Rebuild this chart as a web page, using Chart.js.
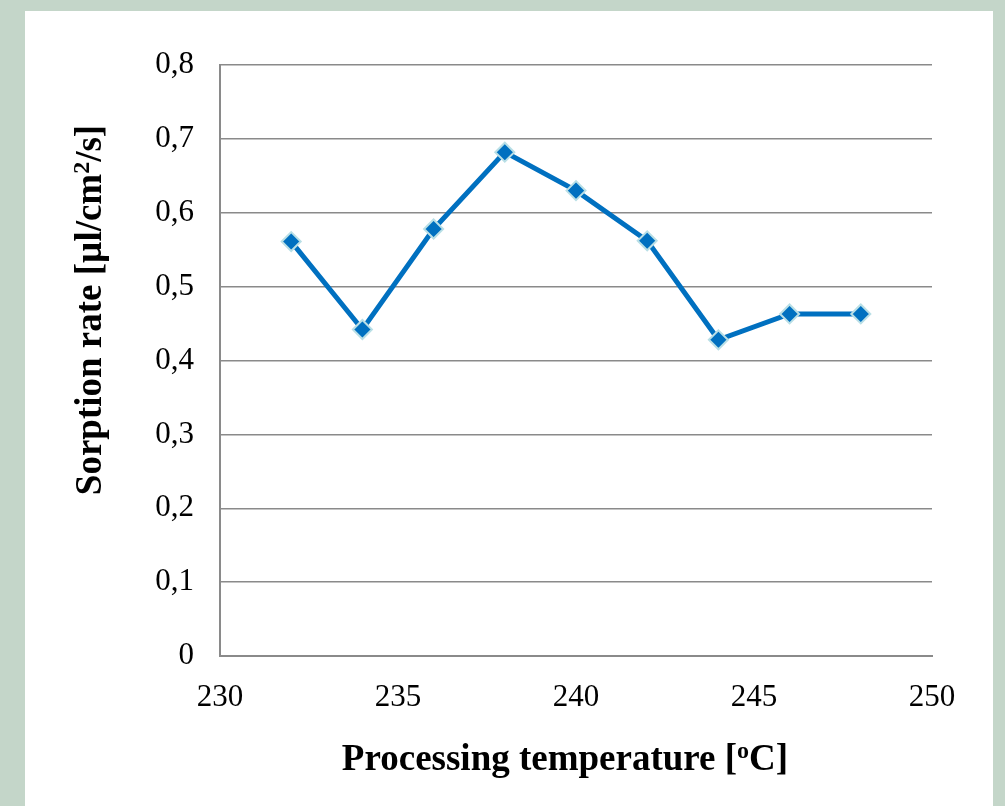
<!DOCTYPE html>
<html>
<head>
<meta charset="utf-8">
<script src="https://cdn.jsdelivr.net/npm/chart.js@4.4.1/dist/chart.umd.min.js"></script>
<style>
  html,body{margin:0;padding:0;}
  body{width:1005px;height:806px;background:#c4d6c9;position:relative;overflow:hidden;}
  #panel{position:absolute;left:25px;top:11px;width:968px;height:795px;background:#fff;}
  #c{position:absolute;left:0;top:0;}
</style>
</head>
<body>
<div id="panel"></div>
<canvas id="c" width="1005" height="806"></canvas>
<script>
(function(){
  // data
  const temps = [232, 234, 236, 238, 240, 242, 244, 246, 248];
  const rates = [0.561, 0.442, 0.578, 0.682, 0.630, 0.562, 0.428, 0.463, 0.463];
  const xTicks = [230, 235, 240, 245, 250];
  const yTicks = [0, 0.1, 0.2, 0.3, 0.4, 0.5, 0.6, 0.7, 0.8];

  const serif = '"Liberation Serif", "Times New Roman", serif';
  const gridCol = '#8a8a8a';

  // draws a line of text made of pieces, some raised as superscripts
  function richText(ctx, parts, cx, cy, size, rot){
    ctx.save();
    ctx.translate(cx, cy);
    ctx.rotate(rot);
    ctx.fillStyle = '#000';
    ctx.textBaseline = 'alphabetic';
    ctx.textAlign = 'left';
    let total = 0;
    const ws = parts.map(p=>{
      ctx.font = 'bold ' + Math.round(size*(p.sup?0.65:1)) + 'px ' + serif;
      const w = ctx.measureText(p.t).width; total += w; return w;
    });
    let x = -total/2;
    parts.forEach((p,i)=>{
      ctx.font = 'bold ' + Math.round(size*(p.sup?0.65:1)) + 'px ' + serif;
      ctx.fillText(p.t, x, p.sup ? -size*0.33 : 0);
      x += ws[i];
    });
    ctx.restore();
  }

  const titles = {
    id:'titles',
    afterDraw(chart){
      const ctx = chart.ctx;
      richText(ctx, [{t:'Sorption rate [µl/cm'},{t:'2',sup:true},{t:'/s]'}], 101, 310, 37, -Math.PI/2);
      richText(ctx, [{t:'Processing temperature ['},{t:'o',sup:true},{t:'C]'}], 565, 770, 37, 0);
    }
  };

  new Chart(document.getElementById('c'), {
    type:'scatter',
    data:{
      datasets:[{
        data: temps.map((t,i)=>({x:t, y:rates[i]})),
        showLine:true,
        borderColor:'#0070c0',
        borderWidth:5,
        pointStyle:'rectRot',
        pointRadius:9.5,
        pointBackgroundColor:'#0070c0',
        pointBorderColor:'#b9dfe6',
        pointBorderWidth:2,
        tension:0
      }]
    },
    options:{
      responsive:false,
      animation:false,
      layout:{ padding:{ left:0, top:65, right:73, bottom:0 } },
      plugins:{ legend:{display:false}, tooltip:{enabled:false} },
      scales:{
        x:{
          type:'linear', min:230, max:250,
          afterBuildTicks: s=>{ s.ticks = xTicks.map(v=>({value:v})); },
          afterFit: s=>{ s.height = 150; },
          grid:{ display:false, drawTicks:false },
          border:{ display:true, color:gridCol, width:2 },
          ticks:{ color:'#000', padding:23, maxRotation:0, font:{ family:serif, size:31 } }
        },
        y:{
          min:0, max:0.8,
          afterBuildTicks: s=>{ s.ticks = yTicks.map(v=>({value:v})); },
          afterFit: s=>{ s.width = 220; },
          grid:{ color:gridCol, lineWidth:1.5, drawTicks:false },
          border:{ display:true, color:gridCol, width:2 },
          ticks:{ color:'#000', padding:26, font:{ family:serif, size:31 },
            callback: v => v === 0 ? '0' : v.toFixed(1).replace('.', ',') }
        }
      }
    },
    plugins:[titles]
  });
})();
</script>
</body>
</html>
